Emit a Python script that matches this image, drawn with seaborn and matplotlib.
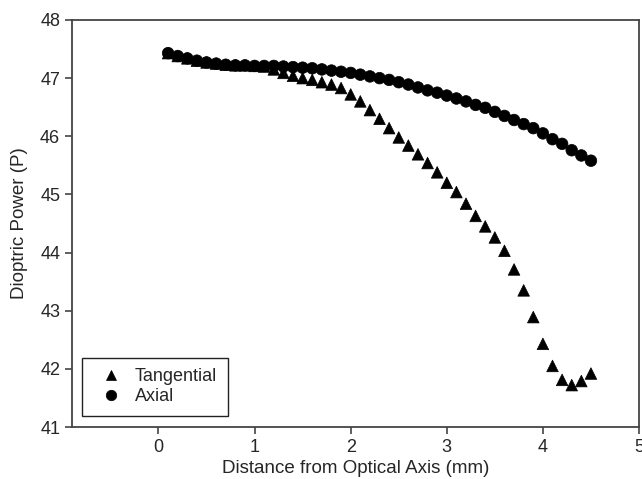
import pandas as pd
import seaborn as sns
import matplotlib.pyplot as plt

# distance from optical axis (mm)
distance = [0.1, 0.2, 0.3, 0.4, 0.5, 0.6, 0.7, 0.8, 0.9, 1.0,
            1.1, 1.2, 1.3, 1.4, 1.5, 1.6, 1.7, 1.8, 1.9, 2.0,
            2.1, 2.2, 2.3, 2.4, 2.5, 2.6, 2.7, 2.8, 2.9, 3.0,
            3.1, 3.2, 3.3, 3.4, 3.5, 3.6, 3.7, 3.8, 3.9, 4.0,
            4.1, 4.2, 4.3, 4.4, 4.5]

tangential = [47.43, 47.38, 47.34, 47.30, 47.27, 47.25, 47.23, 47.22, 47.22, 47.21,
              47.20, 47.15, 47.09, 47.04, 47.00, 46.97, 46.93, 46.89, 46.83, 46.72,
              46.60, 46.45, 46.30, 46.14, 45.98, 45.84, 45.69, 45.54, 45.38, 45.20,
              45.04, 44.84, 44.63, 44.45, 44.26, 44.03, 43.71, 43.35, 42.89, 42.43,
              42.05, 41.81, 41.72, 41.79, 41.92]

axial = [47.43, 47.38, 47.34, 47.30, 47.27, 47.25, 47.23, 47.22, 47.22, 47.21,
         47.21, 47.21, 47.20, 47.19, 47.18, 47.17, 47.15, 47.13, 47.11, 47.09,
         47.06, 47.03, 47.00, 46.97, 46.93, 46.89, 46.84, 46.79, 46.75, 46.70,
         46.65, 46.60, 46.54, 46.49, 46.42, 46.35, 46.28, 46.21, 46.14, 46.05,
         45.95, 45.87, 45.76, 45.67, 45.58]

series_names = ['Tangential', 'Axial']

df = pd.DataFrame({
    'distance': distance * 2,
    'power': tangential + axial,
    'series': [series_names[0]] * len(distance) + [series_names[1]] * len(distance),
})

sns.set_style('ticks')
plt.rcParams['font.family'] = ['Liberation Sans', 'DejaVu Sans']

fig = plt.figure(figsize=(6.42, 4.79), dpi=100)
ax = fig.add_axes([72 / 642, 1 - 427 / 479, 567 / 642, 407 / 479])

sns.scatterplot(data=df, x='distance', y='power', hue='series', style='series',
                hue_order=series_names, style_order=series_names,
                palette=['black', 'black'], markers={'Tangential': '^', 'Axial': 'o'},
                s=70, edgecolor='black', linewidth=0.5, ax=ax)

ax.set_xlim(-0.9, 5)
ax.set_ylim(41, 48)
ax.set_xticks([0, 1, 2, 3, 4, 5])
ax.set_yticks([41, 42, 43, 44, 45, 46, 47, 48])
ax.tick_params(labelsize=13, length=5, width=1.2, color='#444444', direction='out')
for sp in ax.spines.values():
    sp.set_visible(True)
    sp.set_color('#444444')
    sp.set_linewidth(1.3)
ax.set_xlabel('Distance from Optical Axis (mm)', fontsize=13.5, labelpad=3)
ax.set_ylabel('Dioptric Power (P)', fontsize=13.5, labelpad=9)

leg = ax.legend(loc='lower left', bbox_to_anchor=(0.018, 0.027), borderaxespad=0,
                fancybox=False, edgecolor='#222222', framealpha=1, fontsize=13,
                borderpad=0.6, handletextpad=0.3, labelspacing=0.15, markerscale=0.9)
leg.get_frame().set_linewidth(1.0)

fig.savefig('out.png', dpi=100)
